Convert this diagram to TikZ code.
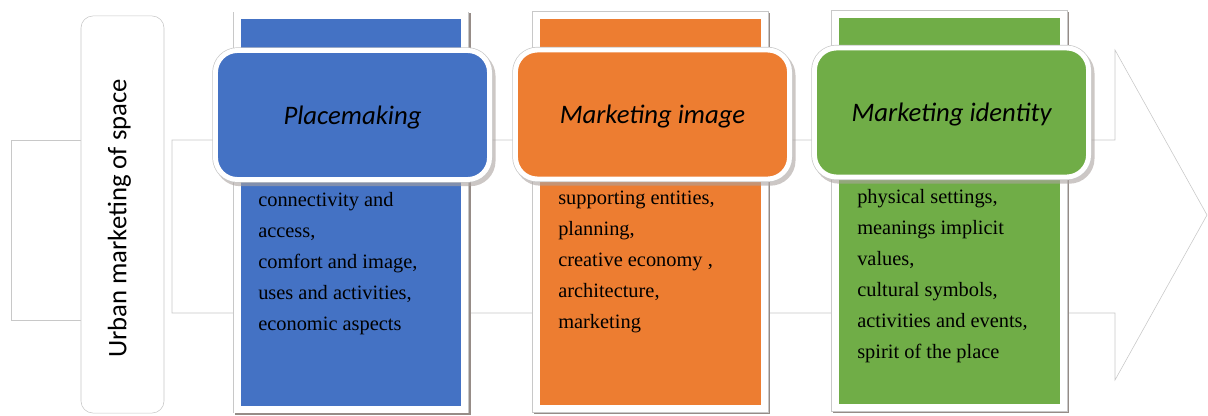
\documentclass[tikz,border=0pt]{standalone}
\usepackage{fontspec}
\setmainfont{Liberation Serif}
\newfontfamily\headfont{Carlito}
\usetikzlibrary{positioning}

\definecolor{pmblue}{RGB}{68,114,196}
\definecolor{imorange}{RGB}{237,125,49}
\definecolor{idgreen}{RGB}{112,173,71}
\definecolor{rim}{RGB}{200,200,200}
\definecolor{shade}{RGB}{150,140,135}

\tikzset{
  colbox/.style={fill=#1, draw=white, line width=5pt,
    minimum width=5.69cm, minimum height=9.83cm,
    preaction={draw=shade, line width=6pt, transform canvas={xshift=1.2pt,yshift=-1pt}},
    preaction={draw=rim, line width=6pt}},
  headbox/.style={fill=#1, draw=white, line width=3.5pt, rounded corners=0.55cm,
    minimum width=6.85cm, minimum height=3.225cm, text height=17.5pt, text depth=4pt,
    font=\headfont\itshape\fontsize{19}{23}\selectfont,
    preaction={draw=shade!80, line width=4.5pt, opacity=0.6, transform canvas={xshift=2pt,yshift=-2.5pt}},
    preaction={draw=rim, line width=4.5pt}},
  itemtext/.style={align=left, inner sep=0pt, anchor=north west,
    font=\fontsize{14.5}{22}\selectfont},
}

\begin{document}
\begin{tikzpicture}[x=0.025cm, y=-0.025cm]
\useasboundingbox (0,0) rectangle (1208,415);

% big arrow behind the columns
\draw[rim, fill=white] (172,140) -- (1115,140) -- (1115,50) -- (1207,215)
  -- (1115,380) -- (1115,313) -- (172,313) -- cycle;
\node[draw=rim, minimum width=1.8cm, minimum height=4.5cm] (stub) at (47,230) {};
\node[draw=rim, fill=white, rounded corners=0.3cm, rotate=90,
  minimum width=9.925cm, minimum height=2.075cm] (urban) at (122.5,214.5) {};
\node[rotate=90, font=\headfont\fontsize{19}{23}\selectfont] (urbantext) at (119.5,218.5) {Urban marketing of space};

% columns
\node[colbox=pmblue] (pmcol) at (351,212.5) {};
\node[colbox=imorange] (imcol) at (650.5,212) {};
\node[colbox=idgreen] (idcol) at (949.5,211) {};

\node[headbox=pmblue] (pmhead) at (352.5,115) {Placemaking};
\node[headbox=imorange] (imhead) at (652.5,114.5) {Marketing image};
\node[headbox=idgreen] (idhead) at (951.5,112.5) {Marketing identity};

\node[itemtext] (pmtext) at (258,192) {connectivity and\\access,\\comfort and image,\\uses and activities,\\economic aspects};
\node[itemtext] (imtext) at (558,191) {supporting entities,\\planning,\\creative economy ,\\architecture,\\marketing};
\node[itemtext] (idtext) at (857,189) {physical settings,\\meanings implicit\\values,\\cultural symbols,\\activities and events,\\spirit of the place};
\end{tikzpicture}
\end{document}
